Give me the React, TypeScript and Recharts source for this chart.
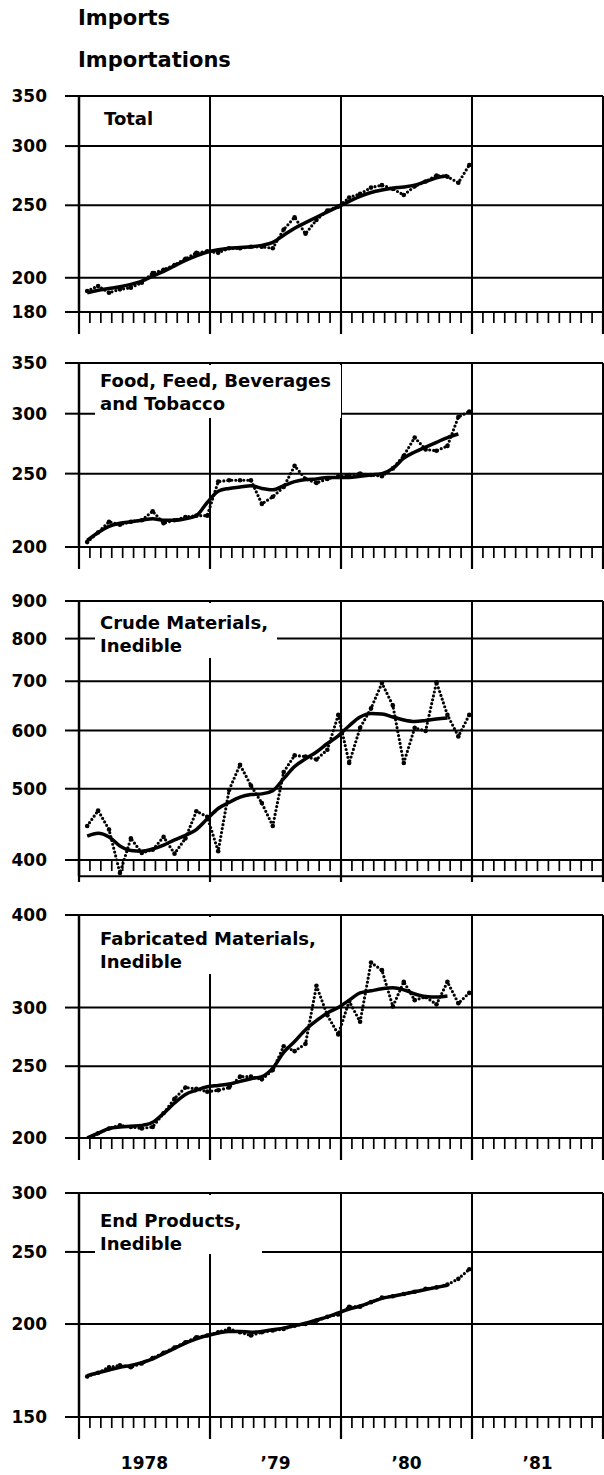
import React from 'react';
import { LineChart, Line, XAxis, YAxis, CartesianGrid, ReferenceLine } from 'recharts';

const FONT = "'DejaVu Sans', 'Liberation Sans', sans-serif";

// ---------- axis labels / ticks ----------
const yearLabels = ['1978', '\u201979', '\u201980', '\u201981'];
const monthTicks = [0, 1, 2, 3, 4, 5, 6, 7, 8, 9, 10, 11, 12, 13, 14, 15, 16, 17, 18, 19, 20, 21, 22, 23, 24,
  25, 26, 27, 28, 29, 30, 31, 32, 33, 34, 35, 36, 37, 38, 39, 40, 41, 42, 43, 44, 45, 46, 47, 48];
const yearBounds = [12, 24, 36, 48];

const totalTicks = [180, 200, 250, 300, 350];
const foodTicks = [200, 250, 300, 350];
const crudeTicks = [400, 500, 600, 700, 800, 900];
const fabTicks = [200, 250, 300, 400];
const endTicks = [150, 200, 250, 300];

// ---------- monthly values, Jan 1978 .. Dec 1980 ----------
const totalActual = [192, 195, 191, 193, 194, 197, 203, 205, 208, 212, 216, 217, 216, 219, 219, 220, 220, 219,
  232, 241, 229, 239, 246, 249, 256, 259, 264, 266, 263, 258, 265, 269, 274, 273, 268, 283];
const totalTrend = [191, 192.5, 193.5, 194.5, 196, 198, 201, 204, 207.5, 211, 214, 216.5, 218, 219, 219.5, 220,
  221, 223, 228, 233, 237, 241, 245, 249, 253, 257, 260, 262, 263.5, 264.5, 266, 269, 272, 274];

const foodActual = [203, 209, 216, 214, 216, 217, 223, 215, 217, 219, 220, 220, 244, 245, 245, 245, 228, 233,
  240, 256, 246, 243, 246, 248, 249, 250, 249, 248, 254, 264, 279, 269, 268, 272, 297, 302];
const foodTrend = [204, 209, 213, 215, 216, 217, 218, 217, 217, 218, 220, 229, 237, 239, 240, 241, 239, 238,
  241, 244, 245.5, 246, 247, 247, 247, 248, 249, 250, 254, 262, 267, 271, 275, 279, 282];

const crudeActual = [445, 467, 440, 384, 428, 409, 413, 430, 408, 428, 466, 458, 411, 498, 539, 505, 478, 445,
  527, 555, 553, 548, 565, 630, 542, 605, 643, 696, 649, 542, 605, 599, 698, 630, 589, 630];
const crudeTrend = [431, 435, 430, 418, 412, 411, 414, 419, 426, 432, 440, 455, 470, 479, 487, 491, 492, 497,
  516, 536, 549, 561, 576, 590, 609, 626, 633, 632, 626, 620, 617, 619, 622, 624];

const fabActual = [198, 203, 206, 208, 207, 206, 207, 216, 226, 234, 233, 231, 232, 234, 242, 242, 240, 247,
  266, 262, 268, 321, 293, 276, 306, 287, 345, 337, 301, 325, 307, 310, 303, 325, 304, 314];
const fabTrend = [200, 203, 206, 207, 207.5, 208, 210, 216, 223, 229, 232, 234.5, 235.5, 236.5, 238.5, 240.5,
  242, 248.5, 261, 270, 280, 288, 295, 300, 307, 314, 316, 318, 319, 317, 313, 310.5, 310, 311];

const endActual = [170, 172, 175, 176, 175, 177, 180, 183, 186, 189, 192, 193, 195, 197, 195, 193, 195, 196,
  197, 199, 200, 202, 204.5, 206, 211, 211, 214, 217, 218, 219.5, 221, 223, 224, 226, 230, 237];
const endTrend = [170.5, 172, 173.5, 175, 176, 177.5, 179.5, 182.5, 185.5, 188.5, 191, 193, 194.5, 195.5, 195.5,
  195, 195.5, 196.5, 197.5, 199, 200.5, 202.5, 204.5, 207, 209.5, 211.5, 214, 216.5, 218, 219.5, 221, 222.5,
  224, 225.5];

type Box = { left: number; top: number; width: number; height: number } | null;
type PanelDef = {
  id: string;
  title: string[];
  actual: number[];
  trend: number[];
  ticks: number[];
  floor: number;
  top: number;
  base: number;
  titleLeft: number;
  titleTop: number;
  box: Box;
};

const panels: PanelDef[] = [
  { id: 'total', title: ['Total'], actual: totalActual, trend: totalTrend, ticks: totalTicks, floor: 180,
    top: 96, base: 312, titleLeft: 104, titleTop: 107, box: null },
  { id: 'food', title: ['Food, Feed, Beverages', 'and Tobacco'], actual: foodActual, trend: foodTrend,
    ticks: foodTicks, floor: 200, top: 363, base: 547, titleLeft: 100, titleTop: 369,
    box: { left: 95, top: 365, width: 246, height: 53 } },
  { id: 'crude', title: ['Crude Materials,', 'Inedible'], actual: crudeActual, trend: crudeTrend,
    ticks: crudeTicks, floor: 380, top: 601, base: 860, titleLeft: 100, titleTop: 611,
    box: { left: 95, top: 603, width: 182, height: 55 } },
  { id: 'fab', title: ['Fabricated Materials,', 'Inedible'], actual: fabActual, trend: fabTrend,
    ticks: fabTicks, floor: 200, top: 915, base: 1138, titleLeft: 100, titleTop: 927,
    box: { left: 95, top: 917, width: 230, height: 57 } },
  { id: 'end', title: ['End Products,', 'Inedible'], actual: endActual, trend: endTrend,
    ticks: endTicks, floor: 150, top: 1193, base: 1417, titleLeft: 100, titleTop: 1209,
    box: { left: 95, top: 1195, width: 167, height: 59 } },
];

const ValueTick = (p: any) => (
  <text x={p.x} y={p.y + 6.2} textAnchor="end" fontFamily={FONT} fontWeight="bold" fontSize={17} fill="#000">
    {p.payload.value}
  </text>
);

const MonthTick = (p: any) => {
  const { x, y, payload, lift = 0, labels = false } = p;
  const v = payload.value as number;
  const base = y - lift;
  const major = v % 12 === 0;
  const label = labels && v % 12 === 6 ? yearLabels[(v - 6) / 12] : null;
  return (
    <g>
      <line x1={x} x2={x} y1={major ? base - 1 : base + 1} y2={base + (major ? 22 : 11)} stroke="#000"
        strokeWidth={major ? 2.2 : 1.7} />
      {label ? (
        <text x={x} y={base + 52} textAnchor="middle" fontFamily={FONT} fontWeight="bold" fontSize={17} fill="#000">
          {label}
        </text>
      ) : null}
    </g>
  );
};

function Panel({ def, last }: { def: PanelDef; last: boolean }) {
  const lo = def.ticks[0];
  const hi = def.ticks[def.ticks.length - 1];
  const span = def.base - def.top;
  const plotH = (span * Math.log(hi / def.floor)) / Math.log(hi / lo);
  const lift = plotH - span;
  const mTop = 16;
  const axisH = last ? 1475 - def.base + lift : lift + 26;
  const height = mTop + plotH + axisH;
  const rows = def.actual.map((v, i) => ({
    x: i + 0.75,
    actual: v,
    trend: i < def.trend.length ? def.trend[i] : null,
  }));
  return (
    <div style={{ position: 'absolute', left: 0, top: def.top - mTop, width: 604, height }}>
      <LineChart width={604} height={height} data={rows} margin={{ top: mTop, right: 1, bottom: 0, left: 0 }}>
        <CartesianGrid vertical={false} stroke="#000" strokeWidth={2} />
        <XAxis
          type="number"
          dataKey="x"
          domain={[0, 48]}
          allowDataOverflow
          ticks={monthTicks}
          interval={0}
          tickLine={false}
          axisLine={false}
          tickSize={0}
          tickMargin={0}
          height={axisH}
          tick={<MonthTick lift={lift} labels={last} />}
        />
        <YAxis
          type="number"
          scale="log"
          domain={[def.floor, hi]}
          allowDataOverflow
          ticks={def.ticks}
          interval={0}
          width={79}
          tickSize={14}
          tickMargin={18}
          stroke="#000"
          tickLine={{ stroke: '#000', strokeWidth: 2 }}
          axisLine={{ stroke: '#000', strokeWidth: 2.5 }}
          tick={<ValueTick />}
        />
        {yearBounds.map((v) => (
          <ReferenceLine key={v} x={v} stroke="#000" strokeWidth={2} />
        ))}
        <Line
          dataKey="actual"
          type="linear"
          stroke="#000"
          strokeWidth={3.2}
          strokeDasharray="0 4"
          strokeLinecap="round"
          dot={{ r: 2.3, fill: '#000', stroke: 'none' }}
          isAnimationActive={false}
        />
        <Line
          dataKey="trend"
          type="monotone"
          stroke="#000"
          strokeWidth={3.5}
          dot={false}
          connectNulls={false}
          isAnimationActive={false}
        />
      </LineChart>
    </div>
  );
}

export default function App() {
  return (
    <div style={{ position: 'absolute', left: 0, top: 0, width: 604, height: 1475, background: '#fff', overflow: 'hidden' }}>
      <div style={{ position: 'absolute', left: 78, top: 6, fontFamily: FONT, fontWeight: 'bold', fontSize: 21, lineHeight: '24px', whiteSpace: 'pre' }}>
        Imports
      </div>
      <div style={{ position: 'absolute', left: 78, top: 48, fontFamily: FONT, fontWeight: 'bold', fontSize: 21, lineHeight: '24px', whiteSpace: 'pre' }}>
        Importations
      </div>
      {panels.map((p, i) => (
        <Panel key={p.id} def={p} last={i === panels.length - 1} />
      ))}
      {panels.map((p) => (
        <React.Fragment key={p.id + '-t'}>
          {p.box ? (
            <div style={{ position: 'absolute', left: p.box.left, top: p.box.top, width: p.box.width, height: p.box.height, background: '#fff' }} />
          ) : null}
          <div style={{ position: 'absolute', left: p.titleLeft, top: p.titleTop, fontFamily: FONT, fontWeight: 'bold', fontSize: 18, lineHeight: '23px', whiteSpace: 'pre', color: '#000' }}>
            {p.title.join('\n')}
          </div>
        </React.Fragment>
      ))}
    </div>
  );
}
